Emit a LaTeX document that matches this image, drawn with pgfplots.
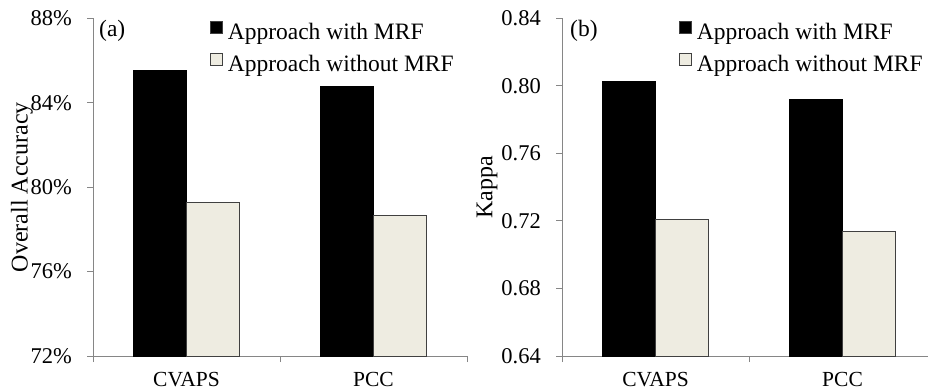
\documentclass[border=0pt]{standalone}
\usepackage{fontspec}
\setmainfont{Liberation Serif}
\usepackage{pgfplots}
\pgfplotsset{compat=1.18}

\definecolor{axisgray}{RGB}{134,134,134}
\definecolor{barlight}{RGB}{238,236,225}
\definecolor{baredge}{RGB}{64,64,64}

\pgfplotsset{
  mrfpanel/.style={
    scale only axis,
    width=374pt, height=337.7pt,
    ybar=0pt, bar width=53pt,
    xmin=-0.5,
    axis lines=left,
    axis line style={-, draw=axisgray, line width=0.9pt},
    tick style={draw=axisgray, line width=0.9pt},
    tick align=outside,
    major tick length=6pt,
    xtick={-0.5,0.5,1.5}, xticklabels={},
    extra x ticks={0,1},
    extra x tick labels={CVAPS,PCC},
    extra x tick style={major tick length=0pt,
      xticklabel style={font=\fontsize{21.5}{25}\selectfont, inner sep=0pt,
        anchor=base, yshift=-30pt}},
    yticklabel style={font=\fontsize{22.5}{26}\selectfont, inner sep=0pt,
      anchor=east, xshift=-15pt},
    /pgf/number format/assume math mode=true,
    legend style={draw=none, fill=none, inner sep=0pt,
      at={(axis description cs:0,1)}, anchor=north west, xshift=117pt, yshift=-3pt,
      font=\fontsize{23.5}{28}\selectfont,
      nodes={inner sep=0pt, text height=16pt, text depth=5pt},
      row sep=9pt, legend cell align=left,
      /tikz/every odd column/.style={column sep=5pt}},
    legend image code/.code={
      \draw[##1, line width=0.6pt, draw=baredge] (0pt,0pt) rectangle (12pt,12pt);},
  },
  withmrf/.style={fill=black, draw=black, line width=0.6pt},
  withoutmrf/.style={fill=barlight, draw=baredge, line width=0.8pt},
}

\begin{document}
\begin{tikzpicture}[x=1pt,y=1pt]
\useasboundingbox (0,0) rectangle (928,391);

% (a) overall accuracy
\begin{axis}[mrfpanel,
  at={(93pt,35pt)}, anchor=south west,
  xmax=1.5,
  ymin=72, ymax=88,
  ytick={72,76,80,84,88},
  yticklabels={72\%,76\%,80\%,84\%,88\%},
  ylabel={Overall Accuracy},
  ylabel style={font=\fontsize{24}{28}\selectfont,
    at={(axis description cs:-0.1898,0.5)}, anchor=center, rotate=0},
]
\addplot[withmrf] coordinates {(0,85.52) (1,84.79)};
\addplot[withoutmrf] coordinates {(0,79.26) (1,78.66)};
\legend{Approach with MRF, Approach without MRF}
\node[anchor=base west, inner sep=0pt, font=\fontsize{23.5}{28}\selectfont]
  at (axis description cs:0,1) [xshift=6pt, yshift=-18.5pt] {(a)};
\end{axis}

% (b) kappa coefficient
\begin{axis}[mrfpanel,
  at={(562pt,35pt)}, anchor=south west,
  width=366pt,
  xmax=1.457,
  ymin=0.64, ymax=0.84,
  ytick={0.64,0.68,0.72,0.76,0.80,0.84},
  yticklabel style={/pgf/number format/.cd, fixed, fixed zerofill, precision=2},
  ylabel={Kappa},
  ylabel style={font=\fontsize{24}{28}\selectfont,
    at={(axis description cs:-0.2049,0.5)}, anchor=center, rotate=0},
]
\addplot[withmrf] coordinates {(0,0.8025) (1,0.7922)};
\addplot[withoutmrf] coordinates {(0,0.7211) (1,0.7138)};
\legend{Approach with MRF, Approach without MRF}
\node[anchor=base west, inner sep=0pt, font=\fontsize{23.5}{28}\selectfont]
  at (axis description cs:0,1) [xshift=8pt, yshift=-18.5pt] {(b)};
\end{axis}
\end{tikzpicture}
\end{document}
